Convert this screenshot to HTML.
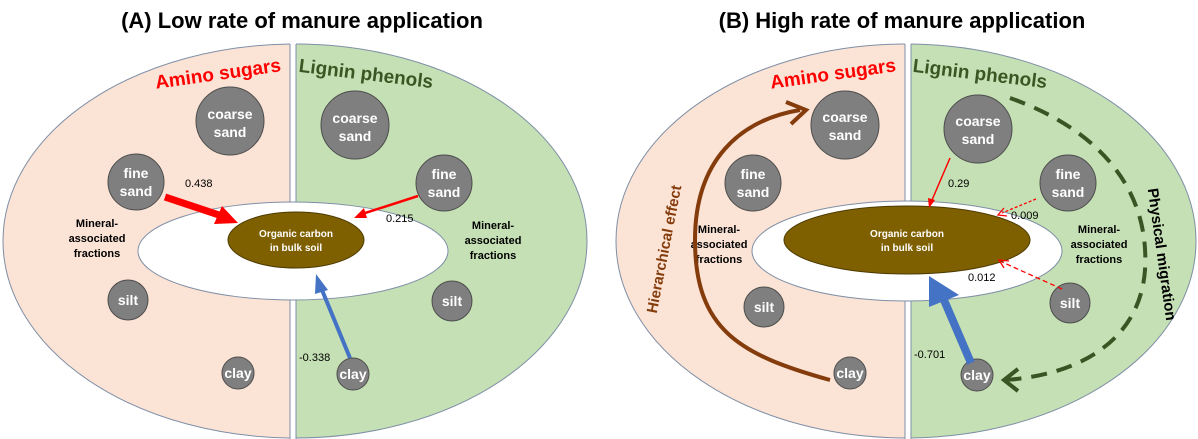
<!DOCTYPE html>
<html><head><meta charset="utf-8"><style>
html,body{margin:0;padding:0;background:#fff}
svg{display:block;font-family:"Liberation Sans",Arial,sans-serif}
.c{fill:#7f7f7f;stroke:#4d4d4d;stroke-width:1}
.ct{fill:#fff;font-weight:bold;font-size:14px;text-anchor:middle}
.m{font-size:11px;font-weight:bold;text-anchor:middle;fill:#000}
.n{font-size:11px;fill:#000}
</style></head><body>
<svg width="1198" height="439" viewBox="0 0 1198 439">
<defs>
<clipPath id="la"><rect x="0" y="0" width="290" height="439"/></clipPath>
<clipPath id="ra"><rect x="296" y="0" width="310" height="439"/></clipPath>
<clipPath id="lb"><rect x="600" y="0" width="305" height="439"/></clipPath>
<clipPath id="rb"><rect x="911" y="0" width="290" height="439"/></clipPath>
</defs>
<text x="302" y="28" font-size="22" font-weight="bold" text-anchor="middle">(A) Low rate of manure application</text>
<text x="902" y="28" font-size="22" font-weight="bold" text-anchor="middle">(B) High rate of  manure application</text>

<!-- Panel A -->
<ellipse cx="295" cy="241" rx="292" ry="197" fill="#fbe3d5" stroke="#7f8fa6" clip-path="url(#la)"/>
<ellipse cx="295" cy="241" rx="292" ry="197" fill="#c5e0b4" stroke="#7f8fa6" clip-path="url(#ra)"/>
<line x1="290" y1="44" x2="290" y2="439" stroke="#7f8fa6"/>
<line x1="296" y1="44" x2="296" y2="439" stroke="#7f8fa6"/>
<ellipse cx="293" cy="251" rx="155" ry="49" fill="#fff" stroke="#7f8fa6"/>
<ellipse cx="296" cy="240" rx="68" ry="28" fill="#7f6000" stroke="#4d3a00"/>
<text x="296" y="237" font-size="10" font-weight="bold" fill="#fff" text-anchor="middle">Organic carbon</text>
<text x="296" y="251" font-size="10" font-weight="bold" fill="#fff" text-anchor="middle">in bulk soil</text>
<text x="218" y="80" font-size="19" font-weight="bold" fill="#ff0000" text-anchor="middle" transform="rotate(-8 218 74)">Amino sugars</text>
<text x="366" y="80" font-size="19" font-weight="bold" fill="#385723" text-anchor="middle" transform="rotate(7 366 74)">Lignin phenols</text>
<circle class="c" cx="230" cy="121" r="34"/><text class="ct" x="230" y="119">coarse</text><text class="ct" x="230" y="137">sand</text>
<circle class="c" cx="136" cy="182" r="28"/><text class="ct" x="136" y="178">fine</text><text class="ct" x="136" y="196">sand</text>
<circle class="c" cx="128" cy="300" r="20"/><text class="ct" x="128" y="305">silt</text>
<circle class="c" cx="238" cy="373" r="16"/><text class="ct" x="238" y="378">clay</text>
<circle class="c" cx="355" cy="125" r="34"/><text class="ct" x="355" y="123">coarse</text><text class="ct" x="355" y="141">sand</text>
<circle class="c" cx="444" cy="183" r="28"/><text class="ct" x="444" y="179">fine</text><text class="ct" x="444" y="197">sand</text>
<circle class="c" cx="452" cy="301" r="20"/><text class="ct" x="452" y="306">silt</text>
<circle class="c" cx="353" cy="374" r="16"/><text class="ct" x="353" y="379">clay</text>
<text class="m" x="97" y="227">Mineral-</text><text class="m" x="97" y="242">associated</text><text class="m" x="97" y="257">fractions</text>
<text class="m" x="493" y="229">Mineral-</text><text class="m" x="493" y="244">associated</text><text class="m" x="493" y="259">fractions</text>
<!-- arrows A -->
<line x1="165" y1="197" x2="222" y2="216" stroke="#ff0000" stroke-width="7"/>
<polygon points="238,223 214,224 222,206" fill="#ff0000"/>
<text class="n" x="185" y="187">0.438</text>
<line x1="418" y1="196" x2="362" y2="214" stroke="#ff0000" stroke-width="2.5"/>
<polygon points="354,218 364,208 367,218" fill="#ff0000"/>
<text class="n" x="386" y="222">0.215</text>
<line x1="350" y1="358" x2="322" y2="290" stroke="#4472c4" stroke-width="4"/>
<polygon points="316,274 328,290 315,294" fill="#4472c4"/>
<text class="n" x="299" y="361">-0.338</text>

<!-- Panel B -->
<ellipse cx="906" cy="241" rx="290" ry="197" fill="#fbe3d5" stroke="#7f8fa6" clip-path="url(#lb)"/>
<ellipse cx="906" cy="241" rx="290" ry="197" fill="#c5e0b4" stroke="#7f8fa6" clip-path="url(#rb)"/>
<line x1="905" y1="44" x2="905" y2="439" stroke="#7f8fa6"/>
<line x1="911" y1="44" x2="911" y2="439" stroke="#7f8fa6"/>
<ellipse cx="907" cy="251" rx="155" ry="50" fill="#fff" stroke="#7f8fa6"/>
<ellipse cx="907" cy="240" rx="123" ry="34" fill="#7f6000" stroke="#4d3a00"/>
<text x="907" y="237" font-size="10" font-weight="bold" fill="#fff" text-anchor="middle">Organic carbon</text>
<text x="907" y="251" font-size="10" font-weight="bold" fill="#fff" text-anchor="middle">in bulk soil</text>
<text x="833" y="80" font-size="19" font-weight="bold" fill="#ff0000" text-anchor="middle" transform="rotate(-8 833 74)">Amino sugars</text>
<text x="980" y="80" font-size="19" font-weight="bold" fill="#385723" text-anchor="middle" transform="rotate(7 980 74)">Lignin phenols</text>
<circle class="c" cx="845" cy="125" r="34"/><text class="ct" x="845" y="122">coarse</text><text class="ct" x="845" y="140">sand</text>
<circle class="c" cx="753" cy="183" r="28"/><text class="ct" x="753" y="179">fine</text><text class="ct" x="753" y="197">sand</text>
<circle class="c" cx="764" cy="307" r="20"/><text class="ct" x="764" y="312">silt</text>
<circle class="c" cx="850" cy="373" r="16"/><text class="ct" x="850" y="378">clay</text>
<circle class="c" cx="978" cy="129" r="34"/><text class="ct" x="978" y="126">coarse</text><text class="ct" x="978" y="144">sand</text>
<circle class="c" cx="1068" cy="183" r="28"/><text class="ct" x="1068" y="179">fine</text><text class="ct" x="1068" y="197">sand</text>
<circle class="c" cx="1070" cy="303" r="20"/><text class="ct" x="1070" y="308">silt</text>
<circle class="c" cx="977" cy="375" r="16"/><text class="ct" x="977" y="380">clay</text>
<text class="m" x="719" y="233">Mineral-</text><text class="m" x="719" y="248">associated</text><text class="m" x="719" y="263">fractions</text>
<text class="m" x="1099" y="233">Mineral-</text><text class="m" x="1099" y="248">associated</text><text class="m" x="1099" y="263">fractions</text>
<!-- hierarchical -->
<path d="M830,380 C740,355 695,330 695,240 C695,160 740,120 800,110" fill="none" stroke="#843c0c" stroke-width="4"/>
<polyline points="786,102 806,110 791,124" fill="none" stroke="#843c0c" stroke-width="4"/>
<text x="0" y="0" font-size="15" font-weight="bold" fill="#843c0c" text-anchor="middle" transform="translate(669,250) rotate(-79)">Hierarchical effect</text>
<!-- physical migration -->
<path d="M1010,98 C1100,130 1150,190 1145,270 C1140,340 1080,375 1005,380" fill="none" stroke="#375623" stroke-width="4" stroke-dasharray="16,10"/>
<polyline points="1018,369 1004,380 1018,391" fill="none" stroke="#375623" stroke-width="4"/>
<text x="0" y="0" font-size="15" font-weight="bold" fill="#000" text-anchor="middle" transform="translate(1157,255) rotate(82)">Physical migration</text>
<!-- arrows B -->
<line x1="950" y1="158" x2="932" y2="200" stroke="#ff0000" stroke-width="1.5"/>
<polygon points="929,208 928,198 935,200" fill="#ff0000"/>
<text class="n" x="948" y="187">0.29</text>
<line x1="1036" y1="199" x2="1002" y2="213" stroke="#ff0000" stroke-width="1.3" stroke-dasharray="3,2"/>
<polyline points="1004,208 998,215 1007,216" fill="none" stroke="#ff0000" stroke-width="1.3"/>
<text class="n" x="1011" y="219">0.009</text>
<line x1="1062" y1="289" x2="1002" y2="262" stroke="#ff0000" stroke-width="1.3" stroke-dasharray="5,3"/>
<polyline points="1009,261 999,260 1004,268" fill="none" stroke="#ff0000" stroke-width="1.3"/>
<text class="n" x="968" y="281">0.012</text>
<line x1="971" y1="363" x2="944" y2="300" stroke="#4472c4" stroke-width="8"/>
<polygon points="929,276 959,295 929,307" fill="#4472c4"/>
<text class="n" x="914" y="358">-0.701</text>
</svg>
</body></html>
